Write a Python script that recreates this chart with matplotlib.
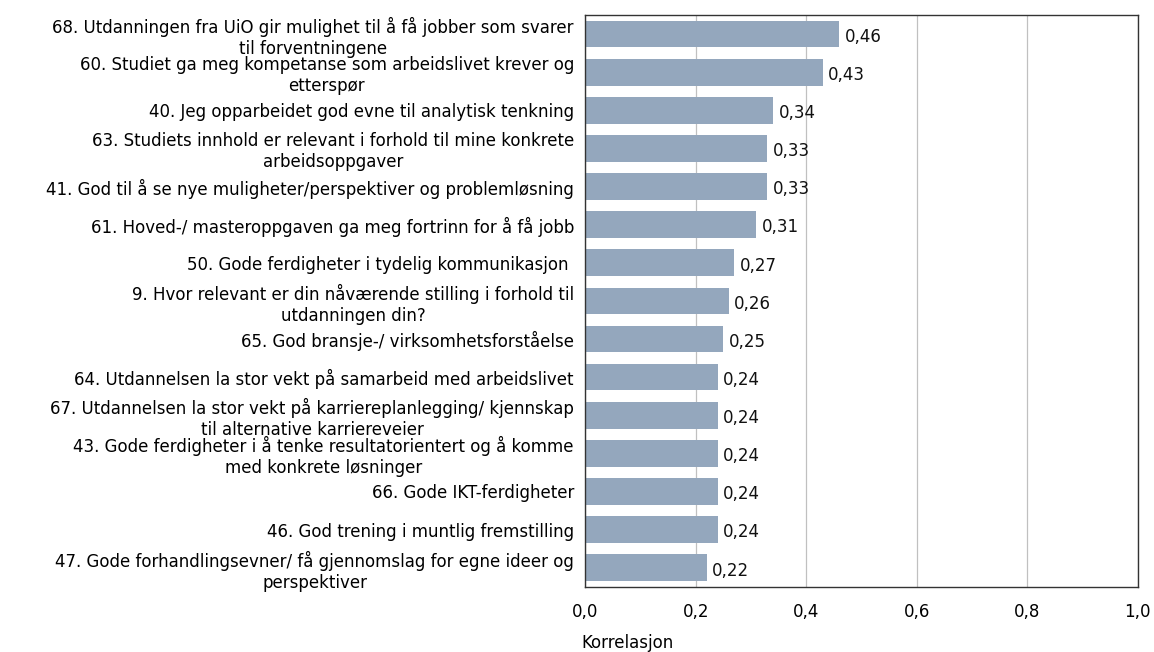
import matplotlib
matplotlib.use("Agg")
import matplotlib.pyplot as plt
from matplotlib.ticker import FuncFormatter

matplotlib.rcParams['font.family'] = 'DejaVu Sans'

# ================================
# Data
# ================================
labels = [
    "68. Utdanningen fra UiO gir mulighet til å få jobber som svarer\ntil forventningene",
    "60. Studiet ga meg kompetanse som arbeidslivet krever og\netterspør",
    "40. Jeg opparbeidet god evne til analytisk tenkning",
    "63. Studiets innhold er relevant i forhold til mine konkrete\narbeidsoppgaver",
    "41. God til å se nye muligheter/perspektiver og problemløsning",
    "61. Hoved-/ masteroppgaven ga meg fortrinn for å få jobb",
    "50. Gode ferdigheter i tydelig kommunikasjon ",
    "9. Hvor relevant er din nåværende stilling i forhold til\nutdanningen din?",
    "65. God bransje-/ virksomhetsforståelse",
    "64. Utdannelsen la stor vekt på samarbeid med arbeidslivet",
    "67. Utdannelsen la stor vekt på karriereplanlegging/ kjennskap\ntil alternative karriereveier",
    "43. Gode ferdigheter i å tenke resultatorientert og å komme\nmed konkrete løsninger",
    "66. Gode IKT-ferdigheter",
    "46. God trening i muntlig fremstilling",
    "47. Gode forhandlingsevner/ få gjennomslag for egne ideer og\nperspektiver",
]
korrelasjon = [0.46, 0.43, 0.34, 0.33, 0.33, 0.31, 0.27, 0.26, 0.25,
               0.24, 0.24, 0.24, 0.24, 0.24, 0.22]
x_ticks = [0.0, 0.2, 0.4, 0.6, 0.8, 1.0]

bar_color = "#94a7bd"
fs = 12

fig = plt.figure(figsize=(11.54, 6.52), dpi=100)
ax = fig.add_axes([0.507, 0.1, 0.479, 0.877])

pos = list(range(len(labels)))
ax.barh(pos, korrelasjon, height=0.7, color=bar_color, zorder=2)

for y, v in zip(pos, korrelasjon):
    ax.annotate(f"{v:.2f}".replace(".", ","), (v, y),
                textcoords="offset points", xytext=(4, -2),
                va="center", ha="left", fontsize=fs, color="#111111")

ax.set_ylim(len(labels) - 0.5, -0.5)
ax.set_yticks(pos)
ax.set_yticklabels(labels, fontsize=fs, multialignment="center",
                   linespacing=1.2)
ax.tick_params(axis="y", length=0, pad=8)

ax.set_xlim(0, 1)
ax.set_xticks(x_ticks)
ax.xaxis.set_major_formatter(FuncFormatter(lambda v, p: f"{v:.1f}".replace(".", ",")))
ax.tick_params(axis="x", length=0, pad=12, labelsize=fs)
ax.grid(axis="x", color="#c0c0c0", linewidth=0.9, zorder=0)

for s in ax.spines.values():
    s.set_color("#333333")
    s.set_linewidth(1.0)

ax.set_xlabel("Korrelasjon", fontsize=fs, loc="left")
ax.xaxis.set_label_coords(-0.007, -0.082)

plt.savefig("out.png", dpi=100)
